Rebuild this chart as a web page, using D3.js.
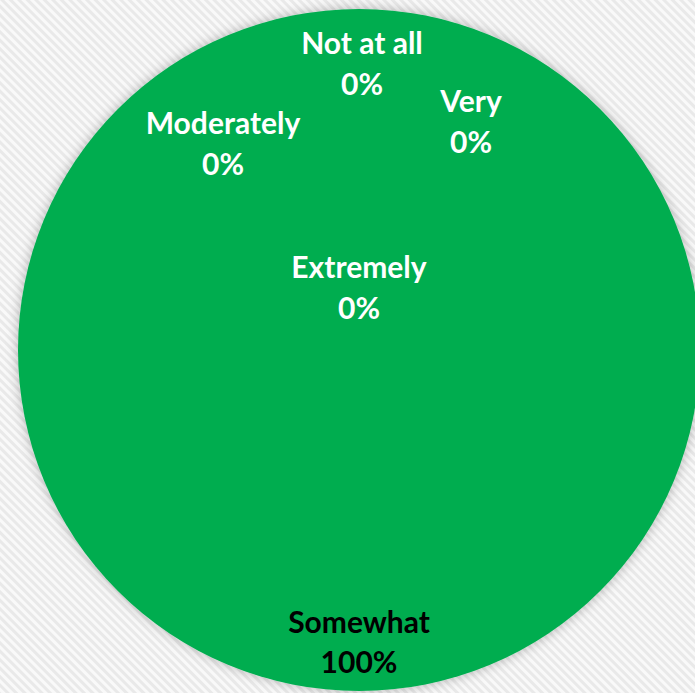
<!DOCTYPE html>
<html>
<head>
<meta charset="utf-8">
<script src="https://cdn.jsdelivr.net/npm/d3@7"></script>
<style>
  html, body { margin: 0; padding: 0; background: #ffffff; }
  svg { display: block; }
</style>
</head>
<body>
<svg id="chart" width="695" height="693"></svg>
<script>
// Survey responses
const categories = ["Not at all", "Somewhat", "Moderately", "Very", "Extremely"];
const values = [0, 100, 0, 0, 0];
const colors = ["#4472c4", "#00ad50", "#a5a5a5", "#ffc000", "#5b9bd5"];
const labelColors = ["#ffffff", "#000000", "#ffffff", "#ffffff", "#ffffff"];

// Label placement (offset from pie centre) for the zero-width slices,
// which have no room of their own; null means use the slice centroid.
const labelOffsets = [[3, -286], null, [-136, -206], [112, -228], [0, -62]];

const width = 695, height = 693;
const cx = 359, cy = 350, radius = 341;

const svg = d3.select("#chart");
const defs = svg.append("defs");

// Light diagonal-striped backdrop
const pat = defs.append("pattern")
  .attr("id", "stripes")
  .attr("patternUnits", "userSpaceOnUse")
  .attr("width", 6).attr("height", 6)
  .attr("patternTransform", "rotate(-45)");
pat.append("rect").attr("width", 6).attr("height", 6).attr("fill", "#f9f9f9");
pat.append("rect").attr("width", 3).attr("height", 6).attr("fill", "#e9e9e9");

const shadow = defs.append("filter")
  .attr("id", "softShadow")
  .attr("x", "-10%").attr("y", "-10%").attr("width", "120%").attr("height", "120%");
shadow.append("feDropShadow")
  .attr("dx", 0).attr("dy", 0)
  .attr("stdDeviation", 6)
  .attr("flood-color", "#000000")
  .attr("flood-opacity", 0.28);

svg.append("rect")
  .attr("width", width).attr("height", height)
  .attr("fill", "url(#stripes)");

const data = categories.map((c, i) => ({ category: c, value: values[i], i }));

const pie = d3.pie().sort(null).value(d => d.value);
const arcs = pie(data);

const arc = d3.arc().innerRadius(0).outerRadius(radius);
const labelArc = d3.arc().innerRadius(radius * 0.857).outerRadius(radius * 0.857);

const g = svg.append("g").attr("transform", `translate(${cx},${cy})`);

g.append("g")
  .attr("filter", "url(#softShadow)")
  .selectAll("path")
  .data(arcs.filter(d => d.data.value > 0))
  .join("path")
  .attr("d", arc)
  .attr("fill", d => colors[d.data.i]);

const fmt = d3.format(".0%");
const total = d3.sum(values);

const labels = g.selectAll("text.label")
  .data(arcs)
  .join("text")
  .attr("class", "label")
  .attr("transform", d => {
    const off = labelOffsets[d.data.i];
    const [x, y] = off ? off : labelArc.centroid(d);
    return `translate(${x},${y})`;
  })
  .attr("text-anchor", "middle")
  .attr("fill", d => labelColors[d.data.i])
  .style("font-family", "Lato, 'Open Sans', sans-serif")
  .style("font-weight", "bold")
  .style("font-size", "30px");

labels.append("tspan")
  .attr("x", 0).attr("dy", "-0.32em")
  .text(d => d.data.category);
labels.append("tspan")
  .attr("x", 0).attr("dy", "1.36em")
  .text(d => fmt(d.data.value / total));
</script>
</body>
</html>
